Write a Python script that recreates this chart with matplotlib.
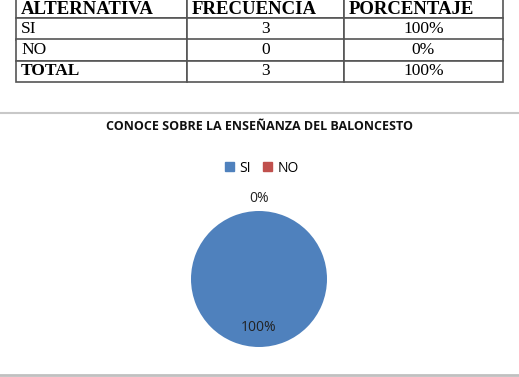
import matplotlib
matplotlib.use("Agg")
import matplotlib.pyplot as plt
import numpy as np

# ---- data ----
col_labels = ["ALTERNATIVA", "FRECUENCIA", "PORCENTAJE"]
categories = ["SI", "NO"]
frecuencia = [3, 0]
porcentaje = [100, 0]
total_label = "TOTAL"
total_freq = 3
total_pct = 100
title = "CONOCE SOBRE LA ENSEÑANZA DEL BALONCESTO"
colors = ["#4F81BD", "#C0504D"]

W, H = 519, 377
fig = plt.figure(figsize=(W / 100, H / 100), dpi=100)
fig.patch.set_facecolor("white")

def fx(px):
    return px / W

def fy(py):
    return 1 - py / H

# ---- table ----
rows = [[c, str(f), f"{p}%"] for c, f, p in zip(categories, frecuencia, porcentaje)]
rows.append([total_label, str(total_freq), f"{total_pct}%"])

tab_ax = fig.add_axes([0, 0, 1, 1])
tab_ax.set_axis_off()
tab_top, tab_bot = -3, 82
tab_left, tab_right = 16, 503
col_edges = [16, 187, 344, 503]
col_widths = [(col_edges[i + 1] - col_edges[i]) / (tab_right - tab_left) for i in range(3)]
tbl = tab_ax.table(cellText=rows, colLabels=col_labels, colWidths=col_widths,
                   bbox=[fx(tab_left), fy(tab_bot), fx(tab_right) - fx(tab_left),
                         (tab_bot - tab_top) / H],
                   cellLoc="center")
tbl.auto_set_font_size(False)
for (r, c), cell in tbl.get_celld().items():
    cell.set_edgecolor("#555555")
    cell.set_linewidth(1.2)
    txt = cell.get_text()
    txt.set_fontfamily("Liberation Serif")
    txt.set_fontsize(13.5 if r == 0 else 12.5)
    txt.set_color("black")
    bold = (r == 0) or (r == len(rows) and c == 0)
    if bold:
        txt.set_fontweight("bold")
    if r == 0:
        txt.set_va("center_baseline")
    if c == 0 or r == 0:
        cell.set_text_props(ha="left")
        cell.PAD = 0.03
    if r > 0 and c > 0:
        cell.set_text_props(ha="center")

# ---- separators ----
tab_ax.axhline(fy(113), color="#c8c8c8", lw=1.5)
tab_ax.axhline(fy(375), color="#c0c0c0", lw=2)
tab_ax.set_xlim(0, 1)
tab_ax.set_ylim(0, 1)

# ---- title ----
fig.text(fx(260), fy(126), title, ha="center", va="center",
         fontsize=9, fontweight="bold", family="Open Sans", color="#111111")

# ---- pie ----
cx, cy, r = 259, 279, 68
size = 3 * r
pie_ax = fig.add_axes([fx(cx - size / 2), fy(cy + size / 2), size / W, size / H])
wedges, _ = pie_ax.pie(frecuencia, colors=colors, startangle=90, counterclock=False,
                       radius=1, wedgeprops=dict(linewidth=0))
pie_ax.set_xlim(-1.5, 1.5)
pie_ax.set_ylim(-1.5, 1.5)
pie_ax.set_aspect("equal")
pie_ax.set_axis_off()

# data labels at mid-angles of wedges
dists = [0.71, 1.19]
for w, p, d in zip(wedges, porcentaje, dists):
    ang = np.deg2rad((w.theta1 + w.theta2) / 2)
    pie_ax.text(d * np.cos(ang), d * np.sin(ang), f"{p}%", ha="center", va="center",
                fontsize=10, family="Open Sans", color="#222222")

# ---- legend ----
handles = [plt.Rectangle((0, 0), 1, 1, color=c) for c in colors]
fig.legend(handles, categories, loc="center", bbox_to_anchor=(fx(262), fy(168)),
           ncol=2, frameon=False, handlelength=0.6, handleheight=0.6,
           handletextpad=0.4, columnspacing=0.9,
           prop=dict(family="Open Sans", size=10))

fig.savefig("out.png", dpi=100, facecolor="white")
